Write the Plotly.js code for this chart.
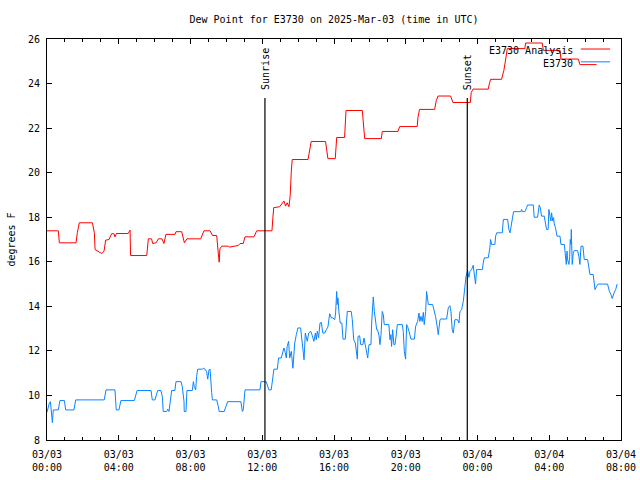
<!DOCTYPE html>
<html>
<head>
<meta charset="utf-8">
<script src="https://cdn.plot.ly/plotly-3.0.1.min.js"></script>
<style>html,body{margin:0;padding:0;background:#fff;}</style>
</head>
<body>
<div id="chart" style="width:640px;height:480px;"></div>
<script>
// Hours after 2025-03-03 00:00 UTC
const analysisHours = [0,0.63,0.69,1.62,1.69,1.8,2.53,2.64,2.68,2.86,3.05,3.18,3.27,3.46,3.6,3.73,3.79,3.88,4.53,4.63,4.66,5.56,5.59,5.65,5.83,5.89,6.08,6.21,6.41,6.52,6.63,7.14,7.19,7.51,7.66,7.8,8.57,8.75,9.09,9.23,9.46,9.51,9.57,9.6,9.64,9.74,10.11,10.16,10.66,10.76,10.94,11.04,11.54,11.69,12.54,12.6,12.64,12.97,13.06,13.21,13.3,13.39,13.49,13.56,13.62,13.67,14.55,14.64,14.73,15.53,15.61,15.66,16.07,16.11,16.15,16.59,16.63,16.67,17.58,17.65,17.71,18.64,18.69,19.57,19.66,20.64,20.68,20.77,21.61,21.7,21.8,22.5,22.63,23.6,23.65,23.75,24.6,24.66,24.73,25.34,25.4,25.47,25.59,25.66,26.64,26.68,27.61,27.67,28.6,28.65,29.62,29.71,30.64];
const analysisDew = [17.39,17.39,16.85,16.85,17.3,17.75,17.75,17.3,16.55,16.48,16.37,16.48,16.97,17.0,17.26,17.26,17.12,17.27,17.27,17.42,16.28,16.28,16.55,17.03,17.03,16.82,16.85,17.03,17.03,16.82,17.23,17.23,17.35,17.35,16.85,17.03,17.03,17.39,17.39,17.18,17.18,16.55,16.2,15.98,16.58,16.7,16.7,16.66,16.73,16.82,16.82,17.12,17.12,17.39,17.39,18.05,18.43,18.47,18.58,18.73,18.5,18.65,18.47,18.98,20.07,20.59,20.59,20.98,21.4,21.4,20.9,20.63,20.63,21.13,21.58,21.58,22.18,22.79,22.79,21.88,21.53,21.53,21.85,21.85,22.07,22.07,22.48,22.84,22.84,23.23,23.44,23.44,23.15,23.15,23.6,23.75,23.75,23.99,24.19,24.19,24.37,24.59,25.19,25.57,25.57,25.82,25.82,25.49,25.49,25.1,25.1,24.85,24.85];

const stationHours = [0,0.07,0.13,0.19,0.22,0.3,0.35,0.63,0.72,0.97,1.04,1.5,1.6,3.19,3.29,3.79,3.86,4.01,4.12,4.87,5.02,5.8,5.87,6.02,6.17,6.35,6.43,6.48,6.67,6.73,6.8,6.89,6.95,7.13,7.19,7.47,7.54,7.64,7.65,7.75,7.8,8.1,8.16,8.21,8.29,8.34,8.4,8.66,8.71,8.81,8.9,8.96,9.03,9.09,9.14,9.18,9.22,9.46,9.55,9.6,9.88,9.98,10.07,10.81,10.89,10.94,11.04,11.87,11.93,12.22,12.32,12.37,12.5,12.6,12.65,12.84,12.91,13.06,13.15,13.21,13.28,13.34,13.39,13.47,13.53,13.62,13.71,13.81,13.9,13.99,14.14,14.21,14.33,14.4,14.51,14.59,14.7,14.77,14.88,14.96,15.01,15.07,15.14,15.22,15.29,15.38,15.48,15.57,15.66,15.76,15.85,15.94,16.04,16.09,16.15,16.18,16.22,16.28,16.35,16.44,16.5,16.63,16.69,16.74,16.96,17.02,17.1,17.19,17.3,17.34,17.43,17.49,17.61,17.67,17.74,17.8,17.88,17.95,18.06,18.1,18.19,18.25,18.32,18.38,18.43,18.51,18.56,18.62,18.69,18.75,18.8,19.06,19.12,19.17,19.21,19.27,19.34,19.4,19.45,19.53,19.81,19.86,19.92,19.99,20.05,20.1,20.18,20.29,20.48,20.55,20.66,20.74,20.79,20.85,20.92,20.98,21.03,21.11,21.16,21.2,21.26,21.5,21.59,21.66,21.78,21.81,21.85,21.91,21.96,22.28,22.37,22.46,22.52,22.59,22.65,22.74,22.89,22.97,23.02,23.12,23.15,23.21,23.26,23.34,23.36,23.45,23.52,23.58,23.67,23.76,23.82,23.89,23.95,24.27,24.32,24.38,24.6,24.64,24.69,24.73,24.79,24.97,25.01,25.07,25.38,25.44,25.68,25.75,25.81,25.86,25.9,25.96,26.01,26.42,26.46,26.5,26.64,26.74,26.79,27.11,27.16,27.35,27.39,27.44,27.5,27.57,27.72,27.8,27.85,27.94,27.98,28.04,28.09,28.13,28.19,28.24,28.28,28.35,28.43,28.6,28.65,28.84,28.91,28.95,28.99,29.02,29.1,29.14,29.17,29.21,29.23,29.24,29.28,29.34,29.39,29.58,29.65,29.71,29.77,29.88,29.95,30.14,30.21,30.27,30.45,30.51,30.55,30.64,30.73,31.25,31.35,31.44,31.51,31.61,31.7,31.79];
const stationDew = [9.25,9.5,9.65,9.72,9.35,8.78,9.35,9.35,9.77,9.77,9.35,9.35,9.8,9.8,10.25,10.25,9.35,9.35,9.77,9.77,10.22,10.22,9.8,9.8,10.22,10.22,9.95,9.28,9.28,9.38,9.28,9.95,10.22,10.22,10.62,10.62,10.4,9.72,9.28,9.28,10.22,10.22,10.62,10.4,10.25,10.85,11.18,11.18,11.22,11.18,11.07,10.73,11.15,11.18,10.78,10.13,9.8,9.8,9.5,9.28,9.28,9.5,9.72,9.72,9.28,9.35,10.25,10.25,10.62,10.62,10.4,10.25,10.25,10.93,11.18,11.18,11.68,11.68,11.98,12.13,11.93,11.68,12.2,12.43,11.68,11.98,11.22,12.35,12.73,13.03,13.03,12.43,11.6,12.8,12.43,12.8,12.88,12.73,12.43,12.8,12.5,12.88,12.58,13.25,13.28,12.8,12.8,12.95,13.07,13.67,13.48,13.48,13.4,13.7,14.67,14.08,14.38,13.7,13.25,13.25,12.53,12.53,13.4,13.77,13.77,13.4,12.5,12.35,11.63,12.65,12.68,12.28,12.28,12.58,12.28,11.98,11.68,12.28,12.28,13.25,14.42,13.77,13.32,12.95,12.95,12.68,12.28,12.73,13.77,13.63,13.18,13.18,12.5,12.73,12.2,12.95,12.28,12.28,12.58,13.18,13.18,12.88,11.98,11.63,13.18,13.1,12.88,12.53,12.53,13.1,13.32,13.7,13.32,13.55,13.32,13.73,13.18,13.77,14.67,14.3,14.08,14.08,13.77,13.55,12.95,12.73,13.0,13.4,13.43,13.43,13.93,14.03,13.77,12.95,12.8,13.4,13.4,13.25,13.77,13.85,14.0,14.23,14.6,15.13,15.35,15.6,15.3,15.57,15.65,15.84,15.5,15.0,15.65,15.65,15.95,16.18,16.18,16.36,16.63,17.0,16.78,16.78,17.15,17.3,17.3,17.9,17.9,17.45,17.3,17.53,17.75,18.09,18.25,18.25,18.35,18.25,18.25,18.43,18.55,18.55,18.0,18.0,18.43,18.55,18.43,18.05,18.05,17.75,17.45,17.45,18.35,18.05,17.83,18.2,17.83,17.98,17.7,17.53,17.15,17.15,16.78,16.78,16.33,15.88,16.48,16.1,15.88,16.25,17.0,16.78,17.45,15.88,15.88,16.4,16.5,16.5,16.25,15.88,16.7,16.7,16.1,16.1,15.65,15.43,15.43,14.98,14.75,14.9,15.0,15.0,14.68,14.53,14.35,14.6,14.75,15.0];

const tickHours = [0,4,8,12,16,20,24,28,32];
const tickLabels = ['03/03<br>00:00','03/03<br>04:00','03/03<br>08:00','03/03<br>12:00','03/03<br>16:00','03/03<br>20:00','03/04<br>00:00','03/04<br>04:00','03/04<br>08:00'];
const yTicks = [8,10,12,14,16,18,20,22,24,26];
const sunEvents = ['Sunrise','Sunset'];
const sunHours = [12.15,23.43];
const sunLineTop = 23.35;
const sunLabelBase = 23.62;

const BASE = Date.UTC(2025,2,3,0,0,0);
function pad(n){return (n<10?'0':'')+n;}
function toDate(h){
  const d = new Date(BASE + Math.round(h*3600000));
  return d.getUTCFullYear()+'-'+pad(d.getUTCMonth()+1)+'-'+pad(d.getUTCDate())+' '+pad(d.getUTCHours())+':'+pad(d.getUTCMinutes())+':'+pad(d.getUTCSeconds());
}

const FONT = 'DejaVu Sans Mono, monospace';
const RED = '#ff0000';
const BLUE = '#0a84ff';

const traces = [
  {x: analysisHours.map(toDate), y: analysisDew, type:'scatter', mode:'lines', name:'E3730 Analysis', line:{color:RED, width:1}, showlegend:false},
  {x: stationHours.map(toDate), y: stationDew, type:'scatter', mode:'lines', name:'E3730', line:{color:BLUE, width:1}, showlegend:false}
];

const shapes = sunHours.map(h => ({type:'line', xref:'x', yref:'y', x0:toDate(h), x1:toDate(h), y0:8, y1:sunLineTop, line:{color:'#000', width:1.2}}));
const annotations = sunHours.map((h,i) => ({xref:'x', yref:'y', x:toDate(h), y:sunLabelBase, text:sunEvents[i], textangle:-90, showarrow:false, xanchor:'center', yanchor:'bottom', font:{family:FONT, size:10, color:'#000'}}));

// gnuplot-style legend (text left of the sample line)
const legendNames = ['E3730 Analysis','E3730'];
const legendColors = [RED, BLUE];
const legendY = [0.972, 0.940];
legendNames.forEach((n,i) => {
  annotations.push({xref:'paper', yref:'paper', x:0.919, y:legendY[i], text:n, showarrow:false, xanchor:'right', yanchor:'middle', font:{family:FONT, size:10, color:'#000'}});
  shapes.push({type:'line', xref:'paper', yref:'paper', x0:0.930, x1:0.981, y0:legendY[i]+0.003, y1:legendY[i]+0.003, line:{color:legendColors[i], width:1}});
});

const axisCommon = {
  showline:true, linecolor:'#000', linewidth:1, mirror:'ticks',
  ticks:'inside', ticklen:5, tickwidth:1, tickcolor:'#000',
  showgrid:false, zeroline:false,
  tickfont:{family:FONT, size:10, color:'#000'}
};

const layout = {
  width:640, height:480,
  margin:{l:47, r:19, t:39, b:40},
  paper_bgcolor:'#fff', plot_bgcolor:'#fff',
  showlegend:false,
  title:{text:'Dew Point for E3730 on 2025-Mar-03 (time in UTC)', font:{family:FONT, size:10, color:'#000'}, x:0.5, xref:'paper', xanchor:'center', y:0.96, yref:'container', yanchor:'middle'},
  xaxis: Object.assign({}, axisCommon, {
    type:'date',
    range:[toDate(0), toDate(32)],
    tickmode:'array', tickvals: tickHours.map(toDate), ticktext: tickLabels,
    ticklabelstandoff: 5,
    minor:{tickmode:'linear', tick0:toDate(0), dtick:3600000, ticks:'inside', ticklen:3, tickcolor:'#000', showgrid:false}
  }),
  yaxis: Object.assign({}, axisCommon, {
    range:[8,26], tickmode:'array', tickvals:yTicks,
    ticklabelstandoff: 4,
    title:{text:'degrees F', font:{family:FONT, size:10, color:'#000'}, standoff:10}
  }),
  shapes: shapes,
  annotations: annotations
};

Plotly.newPlot('chart', traces, layout, {displayModeBar:false, staticPlot:true});
</script>
</body>
</html>
